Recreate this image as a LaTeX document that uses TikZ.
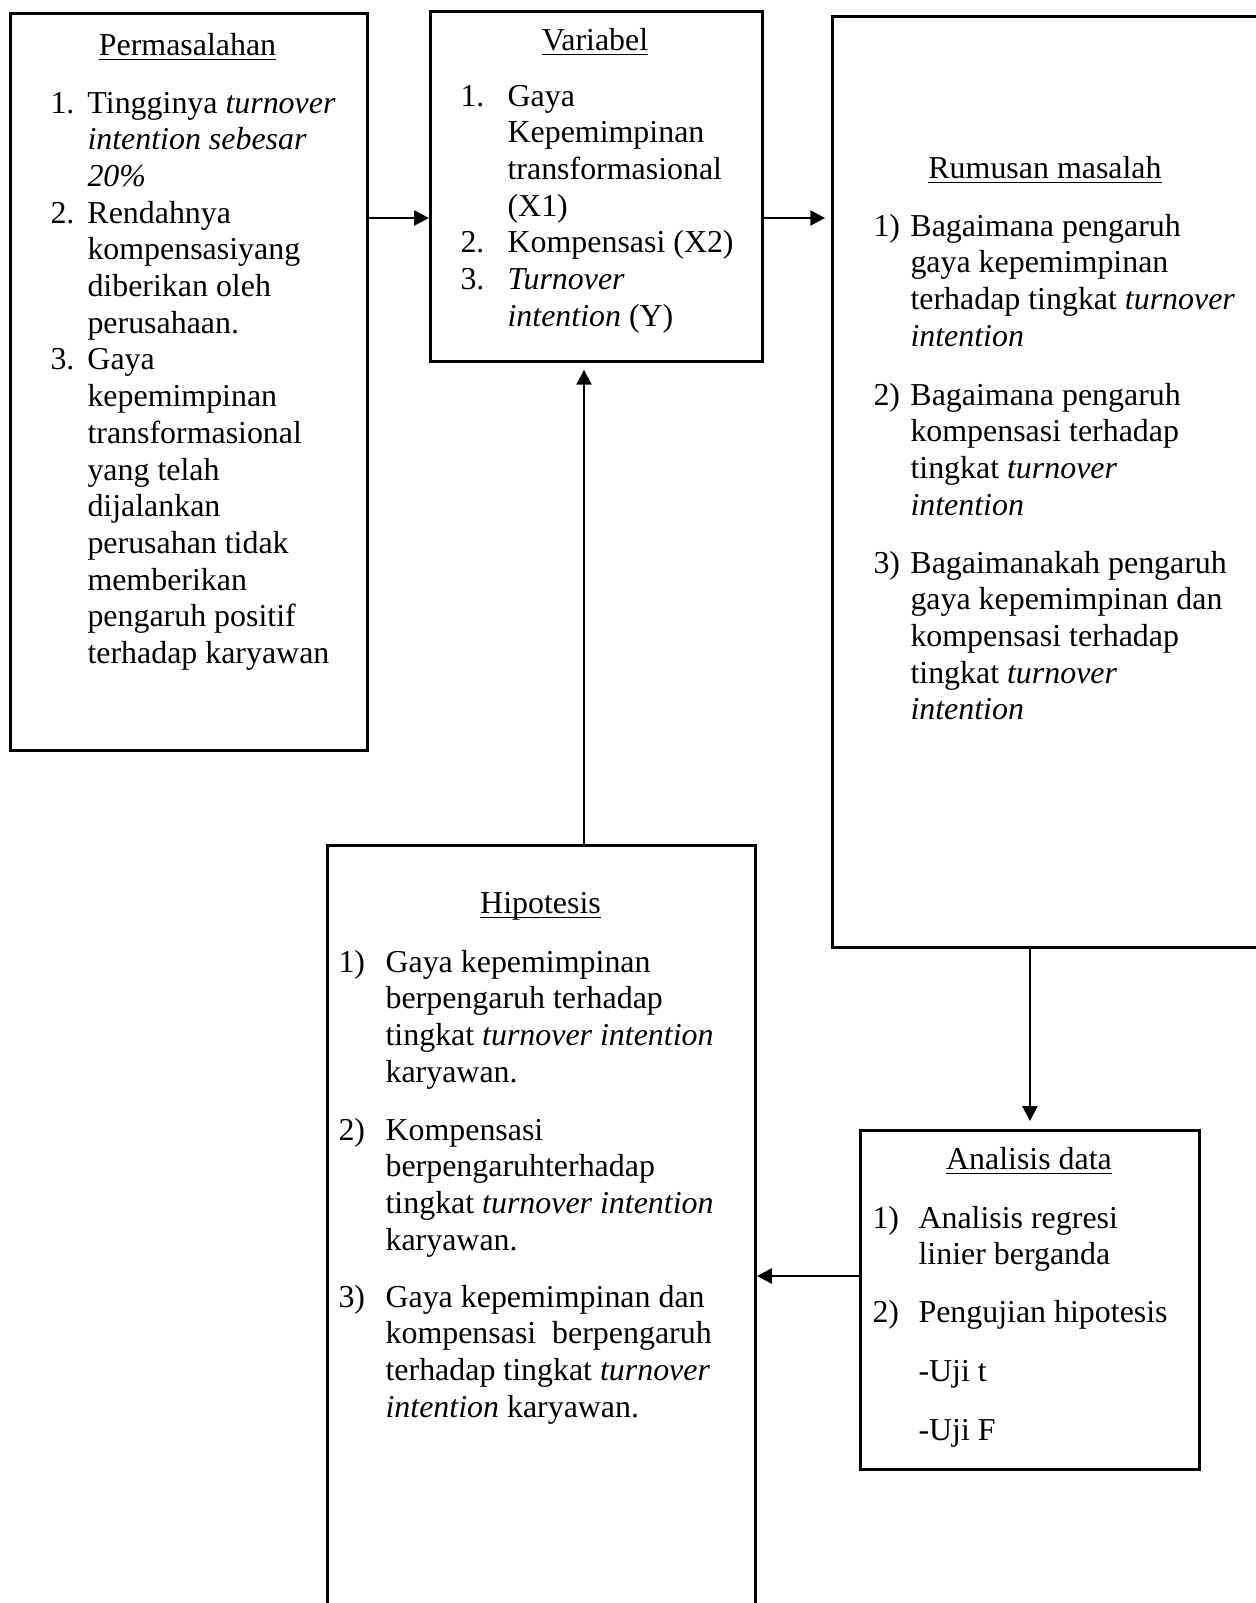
\documentclass[tikz,border=0pt]{standalone}
\usepackage{fontspec}
\setmainfont{Liberation Serif}
\usetikzlibrary{arrows.meta}
\newcommand\ulh[1]{\setbox0\hbox{#1}\rlap{\rule[-1.9pt]{\wd0}{0.45pt}}\box0}
\newcommand\lst[2]{\begin{tabular}[t]{@{}p{#1}@{}l@{}}#2\end{tabular}}
\begin{document}
\begin{tikzpicture}[x=0.376pt,y=-0.376pt,
  box/.style={draw, line width=1.1pt, inner sep=0pt, anchor=north west},
  txt/.style={inner sep=0pt, anchor=base west, font=\fontsize{12pt}{13.8pt}\selectfont},
  head/.style={inner sep=0pt, anchor=base, font=\fontsize{12pt}{13.8pt}\selectfont},
  arr/.style={line width=1pt, -{Triangle[length=5.6pt,width=5.6pt]}}]
\useasboundingbox (0,0) rectangle (1256,1603);
\clip (0,0) rectangle (1256,1603);
\fill[white] (0,0) rectangle (1256,1603);
% boxes
\node[box, minimum width=357*0.376pt, minimum height=737*0.376pt] (perm) at (9,12) {};
\node[box, minimum width=332*0.376pt, minimum height=350*0.376pt] (var) at (429,10) {};
\node[box, minimum width=450*0.376pt, minimum height=931*0.376pt] (rum) at (831,15) {};
\node[box, minimum width=428*0.376pt, minimum height=800*0.376pt] (hip) at (326,844) {};
\node[box, minimum width=339*0.376pt, minimum height=339*0.376pt] (ana) at (859,1129) {};
% Permasalahan
\node[head] (permh) at (187.5,55) {\ulh{Permasalahan}};
\node[txt] (perml) at (50,113) {\lst{13.9pt}{1.&Tingginya \textit{turnover}\\
 &\textit{intention sebesar}\\
 &\textit{20\%}\\
 2.&Rendahnya\\
 &kompensasiyang\\
 &diberikan oleh\\
 &perusahaan.\\
 3.&Gaya\\
 &kepemimpinan\\
 &transformasional\\
 &yang telah\\
 &dijalankan\\
 &perusahan tidak\\
 &memberikan\\
 &pengaruh positif\\
 &terhadap karyawan}};
% Variabel
\node[head] (varh) at (595,50) {\ulh{Variabel}};
\node[txt] (varl) at (460,106) {\lst{17.7pt}{1.&Gaya\\
 &Kepemimpinan\\
 &transformasional\\
 &(X1)\\
 2.&Kompensasi (X2)\\
 3.&\textit{Turnover}\\
 &\textit{intention} (Y)}};
% Rumusan masalah
\node[head] (rumh) at (1045,178) {\ulh{Rumusan masalah}};
\node[txt] (rum1) at (873,236) {\lst{13.9pt}{1)&Bagaimana pengaruh\\
 &gaya kepemimpinan\\
 &terhadap tingkat \textit{turnover}\\
 &\textit{intention}}};
\node[txt] (rum2) at (873,405) {\lst{13.9pt}{2)&Bagaimana pengaruh\\
 &kompensasi terhadap\\
 &tingkat \textit{turnover}\\
 &\textit{intention}}};
\node[txt] (rum3) at (873,573) {\lst{13.9pt}{3)&Bagaimanakah pengaruh\\
 &gaya kepemimpinan dan\\
 &kompensasi terhadap\\
 &tingkat \textit{turnover}\\
 &\textit{intention}}};
% Hipotesis
\node[head] (hiph) at (540.5,913) {\ulh{Hipotesis}};
\node[txt] (hip1) at (338,972) {\lst{17.7pt}{1)&Gaya kepemimpinan\\
 &berpengaruh terhadap\\
 &tingkat \textit{turnover intention}\\
 &karyawan.}};
\node[txt] (hip2) at (338,1140) {\lst{17.7pt}{2)&Kompensasi\\
 &berpengaruhterhadap\\
 &tingkat \textit{turnover intention}\\
 &karyawan.}};
\node[txt] (hip3) at (338,1307) {\lst{17.7pt}{3)&Gaya kepemimpinan dan\\
 &kompensasi\ \ berpengaruh\\
 &terhadap tingkat \textit{turnover}\\
 &\textit{intention} karyawan.}};
% Analisis data
\node[head] (anah) at (1029,1169) {\ulh{Analisis data}};
\node[txt] (ana1) at (872,1228) {\lst{17.3pt}{1)&Analisis regresi\\
 &linier berganda}};
\node[txt] (ana2) at (872,1322) {\lst{17.3pt}{2)&Pengujian hipotesis}};
\node[txt] (ana3) at (918,1381) {-Uji t};
\node[txt] (ana4) at (918,1440) {-Uji F};
% connectors
\coordinate (r1) at (0,218);
\coordinate (r4) at (0,1276);
\coordinate (r5) at (584,0);
\draw[arr] (perm.east |- r1) -- (var.west |- r1);
\draw[arr, shorten >=2.2pt] (var.east |- r1) -- (rum.west |- r1);
\draw[arr, shorten >=3pt] (ana.north |- rum.south) -- (ana.north);
\draw[arr] (ana.west |- r4) -- (hip.east |- r4);
\draw[arr, shorten >=2.6pt] (r5 |- hip.north) -- (r5 |- var.south);
\end{tikzpicture}
\end{document}
